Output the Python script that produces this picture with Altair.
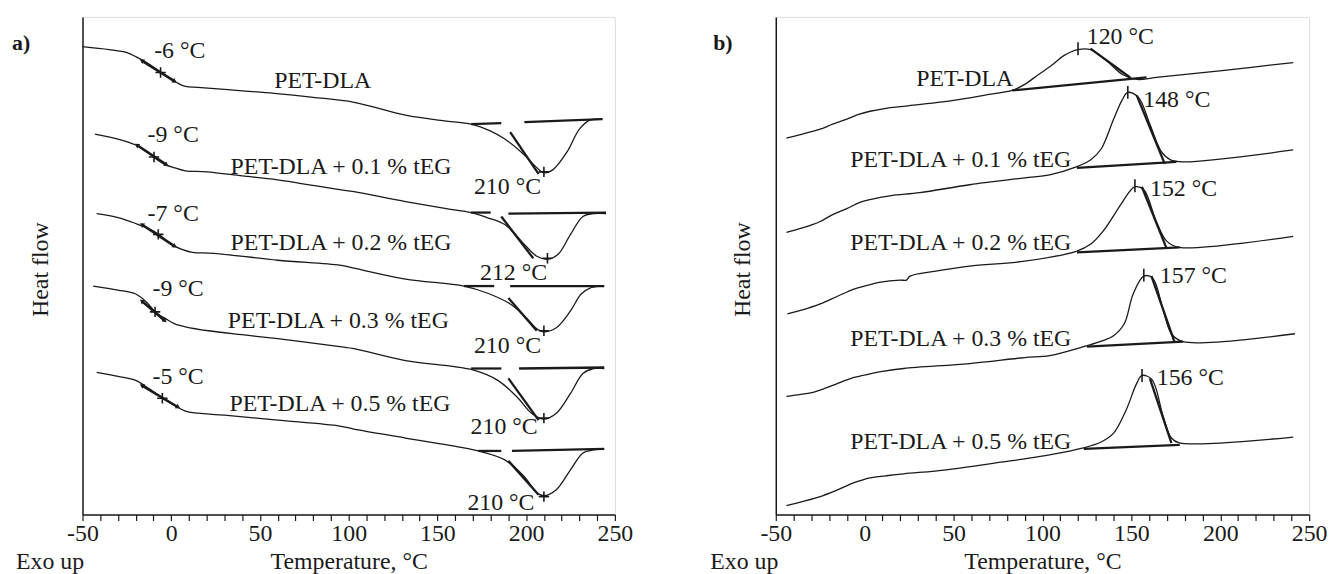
import math
import altair as alt
import pandas as pd

FONT = "Liberation Serif"
INK = "#1a1a1a"

# ---------------- panel a) : heating, glass transition + melting ----------------
series_names = ["PET-DLA", "PET-DLA + 0.1 % tEG", "PET-DLA + 0.2 % tEG",
                "PET-DLA + 0.3 % tEG", "PET-DLA + 0.5 % tEG"]

a_pet_T = [-50, -35, -25, -20, -13, -6, 0, 4, 8, 15, 30, 58, 80, 103, 132, 155, 169, 180, 188, 199, 205, 210, 215, 223, 230, 236, 243]
a_pet_hf = [471, 468, 465, 461, 454, 445, 438, 434, 431, 430, 428, 424, 420, 415, 402, 396, 393, 386, 378, 362, 351, 344, 347, 365, 388, 397, 398]
a_01_T = [-43, -30, -20, -14, -10, -3, 2, 8, 20, 40, 60, 95, 103, 132, 155, 169, 178, 188, 199, 206, 212, 218, 225, 232, 238, 245]
a_01_hf = [383, 378, 372, 366, 360, 352, 349, 346, 345, 341, 337, 327, 325, 315, 308, 304, 299, 292, 272, 260, 257, 262, 282, 300, 303, 303]
a_02_T = [-42, -30, -20, -13, -7, 0, 6, 12, 24, 60, 95, 103, 132, 165, 178, 191, 199, 206, 210, 217, 225, 231, 236, 244]
a_02_hf = [303, 299, 293, 288, 282, 272, 267, 264, 263, 256, 251, 248, 237, 230, 223, 212, 200, 187, 184, 188, 205, 222, 228, 230]
a_03_T = [-44, -30, -20, -14, -9, -3, 2, 8, 21, 40, 60, 95, 103, 132, 169, 184, 195, 203, 210, 217, 225, 232, 238, 244]
a_03_hf = [230, 226, 222, 214, 204, 197, 192, 189, 185, 181, 177, 169, 167, 155, 146, 135, 118, 102, 96, 102, 122, 142, 147, 147]
a_05_T = [-42, -30, -20, -12, -5, 2, 8, 15, 30, 60, 95, 103, 132, 173, 188, 199, 206, 210, 217, 225, 232, 238, 244]
a_05_hf = [143, 139, 135, 126, 117, 110, 104, 102, 100, 95, 89, 86, 77, 64, 55, 38, 22, 19, 25, 45, 62, 65, 66]

# melting baselines (two pieces per curve)
a_base_T0 = [169, 199, 169, 190, 165, 191, 169, 196, 173, 192]
a_base_T1 = [186, 243, 180, 245, 182, 244, 186, 244, 186, 244]
a_base_hf0 = [393, 395, 304, 303, 230, 230, 147, 147, 64, 64]
a_base_hf1 = [394, 398, 304, 304, 230, 230, 147, 148, 64, 66]
# melting onset tangents
a_tan_T0 = [191, 186, 190, 190, 190]
a_tan_T1 = [207, 204, 206, 207, 207]
a_tan_hf0 = [385, 300, 218, 137, 54]
a_tan_hf1 = [343, 258, 185, 95, 20]
# glass transition analysis segments
a_tg_T0 = [-16.6, -19.4, -16.6, -16.6, -16.6]
a_tg_T1 = [2, -2.6, 2, -3.6, 3.9]
a_tg_hf0 = [457, 372, 292, 215, 130]
a_tg_hf1 = [436, 352, 270, 195, 108]
# "+" markers (Tg and Tm)
a_mark_T = [-6, -9.7, -7.3, -9.1, -5, 210, 212, 210, 210, 210]
a_mark_hf = [445, 360, 282, 204, 117, 345, 258, 185, 97, 18]
# labels
a_tg_text = ["-6 °C", "-9 °C", "-7 °C", "-9 °C", "-5 °C"]
a_tg_text_T = [4.8, 1.1, 1.1, 3.9, 3.9]
a_tg_text_hf = [467, 382, 302, 227, 138]
a_tm_text = ["210 °C", "212 °C", "210 °C", "210 °C", "210 °C"]
a_tm_text_T = [189.5, 192.9, 189.5, 187.6, 185.8]
a_tm_text_hf = [330, 243, 170, 88, 12]
a_name_T = [58, 33.4, 33.4, 31.9, 32.8]
a_name_hf = [436, 350, 273, 195, 111]

# ---------------- panel b) : cooling, crystallisation ----------------
b_pet_T = [-44, -35, -25, -18, -10, -3, 3, 12, 22, 50, 70, 83, 90, 97, 105, 112, 120, 127, 136, 145, 153, 164, 201, 241]
b_pet_hf = [379, 383, 388, 393, 398, 403, 406, 409, 411, 417, 423, 427, 433, 442, 452, 462, 468, 468, 457, 443, 438, 440, 447, 455]
b_01_T = [-44, -36, -29, -25, -18, -10, -3, 3, 15, 31, 59, 90, 104, 119, 127, 133, 140, 145, 148, 154, 160, 167, 172, 179, 241]
b_01_hf = [284, 288, 292, 295, 302, 308, 314, 317, 321, 324, 332, 339, 342, 350, 357, 368, 398, 418, 425, 420, 395, 365, 357, 355, 367]
b_02_T = [-43.5, -35, -25, -15, -6, 2, 9, 20, 23.5, 25.5, 40, 59, 90, 119, 127, 134, 144, 149, 152, 157, 164, 170, 177, 241]
b_02_hf = [202, 206, 212, 220, 227, 231, 234, 236, 236, 240, 245, 250, 255, 265, 272, 285, 312, 325, 330, 327, 295, 275, 269, 280]
b_03_T = [-44, -36, -29, -18, -6, -1, 10, 22, 59, 90, 104, 125, 134, 140, 146, 151, 157, 162, 168, 172.5, 179, 242]
b_03_hf = [119, 121, 123, 130, 138, 140, 144, 147, 152, 158, 160, 170, 175, 180, 192, 222, 240, 238, 205, 182, 174, 182]
b_05_T = [-44, -35, -25, -15, -6, 3, 12, 22, 46, 78, 90, 104, 123, 133, 140, 147, 153, 156, 161.5, 168, 172.5, 177, 241]
b_05_hf = [9, 13, 18, 25, 32, 37, 39, 41, 45, 53, 56, 60, 67, 73, 82, 105, 132, 140, 136, 98, 77, 72, 78]

b_base_T0 = [83, 119.4, 119.4, 125, 123.2]
b_base_T1 = [158.5, 175.3, 177.2, 179.1, 177.2]
b_base_hf0 = [427, 349, 264, 169, 66]
b_base_hf1 = [440, 355, 269, 174, 70]
b_tan_T0 = [127, 153, 155.9, 161.3, 160.4]
b_tan_T1 = [149.3, 168.8, 169.8, 174.4, 172.5]
b_tan_hf0 = [469, 422, 330, 240, 137]
b_tan_hf1 = [440, 353, 268, 173, 72]
b_mark_T = [120, 148, 152, 157, 156]
b_mark_hf = [469, 425, 331, 241, 140]
b_tc_text = ["120 °C", "148 °C", "152 °C", "157 °C", "156 °C"]
b_tc_text_T = [124.9, 156.7, 160.5, 166, 164.3]
b_tc_text_hf = [481, 417, 328, 240, 137]
b_name_T = [29, -8.1, -8.1, -8.1, -8.1]
b_name_hf = [438, 357, 273, 177, 73]

# ---------------- helpers ----------------
W_A, W_B, H = 536, 537, 501
XS = alt.Scale(domain=[-50, 250], nice=False, zero=False)
YS = alt.Scale(domain=[0, H], nice=False, zero=False)
X_AXIS = alt.Axis(values=list(range(-50, 251, 10)),
                  labelExpr="datum.value % 50 == 0 ? '' + datum.value : ''",
                  labelOverlap=False, labelFlush=False, labelFont=FONT, labelFontSize=24,
                  labelColor=INK, labelPadding=1, tickSize=6, tickColor=INK, tickWidth=1.2,
                  domainColor=INK, domainWidth=1.5, grid=False,
                  title="Temperature, °C", titleFont=FONT, titleFontSize=24,
                  titleFontWeight="normal", titleColor=INK, titlePadding=4)
Y_AXIS = alt.Axis(labels=False, ticks=False, grid=False, title="",
                  domainColor=INK, domainWidth=1.5)


def X():
    return alt.X("T:Q", scale=XS, axis=X_AXIS)


def Y():
    return alt.Y("hf:Q", scale=YS, axis=Y_AXIS)


def curves(pairs):
    rows = []
    for name, (ts, hs) in zip(series_names, pairs):
        for i, (t, h) in enumerate(zip(ts, hs)):
            rows.append({"series": name, "i": i, "T": t, "hf": h})
    return alt.Chart(pd.DataFrame(rows)).mark_line(
        interpolate="catmull-rom", strokeWidth=1.3, color=INK
    ).encode(x=X(), y=Y(), detail="series:N", order="i:Q")


def segments(t0, t1, h0, h1, width=2.3):
    rows = []
    for k in range(len(t0)):
        rows.append({"seg": k, "i": 0, "T": t0[k], "hf": h0[k]})
        rows.append({"seg": k, "i": 1, "T": t1[k], "hf": h1[k]})
    return alt.Chart(pd.DataFrame(rows)).mark_line(strokeWidth=width, color=INK).encode(
        x=X(), y=Y(), detail="seg:N", order="i:Q")


def markers(ts, hs, shape, size, width=1.6):
    df = pd.DataFrame({"T": ts, "hf": hs})
    return alt.Chart(df).mark_point(shape=shape, size=size, filled=False, strokeWidth=width,
                                    color=INK, opacity=1).encode(x=X(), y=Y())


def texts(labels, ts, hs, align, size=24):
    df = pd.DataFrame({"label": labels, "T": ts, "hf": hs})
    return alt.Chart(df).mark_text(align=align, baseline="middle", font=FONT, fontSize=size,
                                   color=INK).encode(x=X(), y=Y(), text="label:N")


def fixed_text(label, x, y, size=24, weight="normal", angle=0, align="left"):
    df = pd.DataFrame({"label": [label]})
    return alt.Chart(df).mark_text(align=align, baseline="middle", font=FONT, fontSize=size,
                                   fontWeight=weight, angle=angle, color=INK).encode(
        x=alt.value(x), y=alt.value(y), text="label:N")


def arrowheads(t0, t1, h0, h1, wpx):
    rows = []
    for k in range(len(t0)):
        dx = (t1[k] - t0[k]) * wpx / 300.0
        dy = (h0[k] - h1[k])
        ang = math.degrees(math.atan2(dy, dx))
        rows.append({"T": t0[k], "hf": h0[k], "dir": "up", "ang": ang})
        rows.append({"T": t1[k], "hf": h1[k], "dir": "down", "ang": ang})
    return alt.Chart(pd.DataFrame(rows)).mark_point(filled=True, size=28, color=INK, opacity=1).encode(
        x=X(), y=Y(),
        shape=alt.Shape("dir:N", scale=alt.Scale(domain=["up", "down"],
                                                  range=["triangle-left", "triangle-right"]), legend=None),
        angle=alt.Angle("ang:Q", scale=None))


PLUS = "M-1,0L1,0M0,-1L0,1"
VBAR = "M0,-1L0,1"

panel_a = alt.layer(
    curves([(a_pet_T, a_pet_hf), (a_01_T, a_01_hf), (a_02_T, a_02_hf), (a_03_T, a_03_hf), (a_05_T, a_05_hf)]),
    segments(a_base_T0, a_base_T1, a_base_hf0, a_base_hf1),
    segments(a_tan_T0, a_tan_T1, a_tan_hf0, a_tan_hf1),
    segments(a_tg_T0, a_tg_T1, a_tg_hf0, a_tg_hf1, width=2.6),
    arrowheads(a_tg_T0, a_tg_T1, a_tg_hf0, a_tg_hf1, W_A),
    markers(a_mark_T, a_mark_hf, PLUS, 110),
    texts(a_tg_text, a_tg_text_T, a_tg_text_hf, "center"),
    texts(a_tm_text, a_tm_text_T, a_tm_text_hf, "center"),
    texts(series_names, a_name_T, a_name_hf, "left"),
    fixed_text("a)", -71, 26, size=22, weight="bold"),
    fixed_text("Heat flow", -42, H / 2 + 4, angle=270, align="center"),
    fixed_text("Exo up", -67, H + 48),
).properties(width=W_A, height=H)

panel_b = alt.layer(
    curves([(b_pet_T, b_pet_hf), (b_01_T, b_01_hf), (b_02_T, b_02_hf), (b_03_T, b_03_hf), (b_05_T, b_05_hf)]),
    segments(b_base_T0, b_base_T1, b_base_hf0, b_base_hf1),
    segments(b_tan_T0, b_tan_T1, b_tan_hf0, b_tan_hf1),
    markers(b_mark_T, b_mark_hf, VBAR, 170),
    texts(b_tc_text, b_tc_text_T, b_tc_text_hf, "left"),
    texts(series_names, b_name_T, b_name_hf, "left"),
    fixed_text("b)", -63, 26, size=22, weight="bold"),
    fixed_text("Heat flow", -33, H / 2 + 4, angle=270, align="center"),
    fixed_text("Exo up", -66, H + 48),
).properties(width=W_B, height=H)

chart = alt.hconcat(panel_a, panel_b, spacing=162, bounds="flush").properties(
    padding={"left": 3, "top": 6, "right": 5, "bottom": 5}
).configure_view(stroke="#333333", strokeWidth=1.2).configure(background="white")

chart.save("out.html", embed_options={"renderer": "svg", "actions": False})
